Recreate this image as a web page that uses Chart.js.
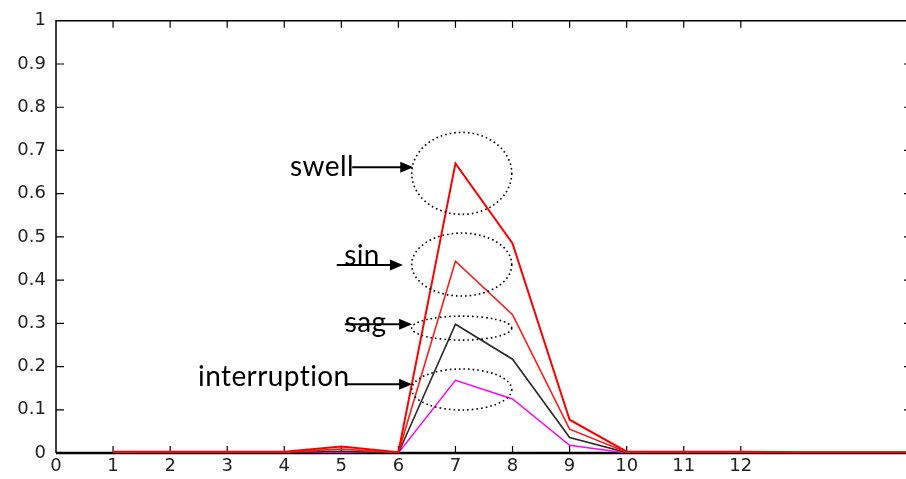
<!DOCTYPE html>
<html>
<head>
<meta charset="utf-8">
<script src="https://cdn.jsdelivr.net/npm/chart.js@4"></script>
<style>
  html, body { margin: 0; padding: 0; background: #fff; overflow: hidden; }
  #wrap { position: relative; width: 912px; height: 479px; }
</style>
</head>
<body>
<div id="wrap"><canvas id="c"></canvas></div>
<script>
// Sample index along the horizontal axis
const samples = [1, 2, 3, 4, 5, 6, 7, 8, 9, 10, 11, 12, 13, 14, 15];

// Per-disturbance response values
const swell        = [0.003, 0.003, 0.003, 0.003, 0.015, 0.002, 0.67,  0.485, 0.077, 0.003, 0.003, 0.003, 0.002, 0.002, 0.002];
const sinWave      = [0.002, 0.002, 0.002, 0.002, 0.009, 0.001, 0.444, 0.32,  0.055, 0.002, 0.002, 0.002, 0.001, 0.001, 0.001];
const sag          = [0.001, 0.001, 0.001, 0.001, 0.004, 0.0,   0.298, 0.217, 0.036, 0.001, 0.001, 0.001, 0.001, 0.001, 0.001];
const interruption = [0.0,   0.0,   0.0,   0.0,   0.001, 0.0,   0.168, 0.125, 0.018, 0.0,   0.0,   0.0,   0.0,   0.0,   0.0];

// Axis tick values
const xTicks = [0, 1, 2, 3, 4, 5, 6, 7, 8, 9, 10, 11, 12];
const yTicks = [0, 0.1, 0.2, 0.3, 0.4, 0.5, 0.6, 0.7, 0.8, 0.9, 1];

// Callout labels
const calloutNames = ['swell', 'sin', 'sag', 'interruption'];

// Callout geometry (data units for anchors, pixels for ellipse radii)
const callouts = [
  { text: [4.10, 0.640], arrow: [5.19, 6.26, 0.661], ellipse: [7.11, 0.647, 50, 41] },
  { text: [5.05, 0.435], arrow: [4.92, 6.08, 0.435], ellipse: [7.11, 0.436, 50, 31.5] },
  { text: [5.06, 0.280], arrow: [5.06, 6.24, 0.298], ellipse: [7.11, 0.289, 50, 12] },
  { text: [2.49, 0.155], arrow: [5.06, 6.24, 0.159], ellipse: [7.11, 0.147, 50, 20.5] }
];

const toPoints = vals => samples.map((x, i) => ({ x: x, y: vals[i] }));

// Box frame with inward tick marks, drawn under the curves
const framePlugin = {
  id: 'frame',
  beforeDatasetsDraw(chart) {
    const { ctx, chartArea: a, scales: { x, y } } = chart;
    ctx.save();
    ctx.strokeStyle = '#000';
    ctx.lineWidth = 1.5;
    ctx.beginPath();
    ctx.moveTo(a.left, a.bottom); ctx.lineTo(a.left, a.top);
    ctx.lineTo(a.right, a.top); ctx.lineTo(a.right, a.bottom);
    ctx.stroke();
    ctx.lineWidth = 1.2;
    ctx.beginPath();
    xTicks.forEach(v => {
      if (v === 0) return;
      const px = x.getPixelForValue(v);
      ctx.moveTo(px, a.bottom); ctx.lineTo(px, a.bottom - 7);
      ctx.moveTo(px, a.top); ctx.lineTo(px, a.top + 7);
    });
    yTicks.forEach(v => {
      if (v === 0 || v === 1) return;
      const py = y.getPixelForValue(v);
      ctx.moveTo(a.left, py); ctx.lineTo(a.left + 8, py);
      ctx.moveTo(a.right, py); ctx.lineTo(a.right - 8, py);
    });
    ctx.stroke();
    ctx.lineWidth = 2.5;
    ctx.beginPath();
    ctx.moveTo(a.left, a.bottom); ctx.lineTo(a.right, a.bottom);
    ctx.stroke();
    ctx.restore();
  }
};

// Dotted ellipses, arrows and names over the peaks
const calloutPlugin = {
  id: 'callouts',
  afterDatasetsDraw(chart) {
    const { ctx, scales: { x, y } } = chart;
    ctx.save();
    callouts.forEach((c, i) => {
      const [ex, ey, rx, ry] = c.ellipse;
      ctx.setLineDash([1.6, 3]);
      ctx.lineWidth = 1.6;
      ctx.strokeStyle = '#000';
      ctx.beginPath();
      ctx.ellipse(x.getPixelForValue(ex), y.getPixelForValue(ey), rx, ry, 0, 0, Math.PI * 2);
      ctx.stroke();
      ctx.setLineDash([]);

      const x0 = x.getPixelForValue(c.arrow[0]);
      const x1 = x.getPixelForValue(c.arrow[1]);
      const ay = y.getPixelForValue(c.arrow[2]);
      ctx.lineWidth = 2;
      ctx.beginPath();
      ctx.moveTo(x0, ay); ctx.lineTo(x1 - 10, ay);
      ctx.stroke();
      ctx.fillStyle = '#000';
      ctx.beginPath();
      ctx.moveTo(x1, ay); ctx.lineTo(x1 - 13, ay - 5.5); ctx.lineTo(x1 - 13, ay + 5.5);
      ctx.closePath();
      ctx.fill();

      // small letter spacing keeps "t" and "i" as separate glyphs
      ctx.font = '28px Lato, "Open Sans", sans-serif';
      if ('letterSpacing' in ctx) ctx.letterSpacing = '0.4px';
      ctx.textAlign = 'left';
      ctx.textBaseline = 'alphabetic';
      ctx.fillText(calloutNames[i], x.getPixelForValue(c.text[0]), y.getPixelForValue(c.text[1]));
    });
    ctx.restore();
  }
};

const tickFont = { family: '"DejaVu Sans", sans-serif', size: 18 };

new Chart(document.getElementById('c'), {
  type: 'line',
  data: {
    datasets: [
      { label: 'swell', data: toPoints(swell), borderColor: '#ff0000', borderWidth: 2 },
      { label: 'sin', data: toPoints(sinWave), borderColor: '#ff1a1a', borderWidth: 1.6 },
      { label: 'sag', data: toPoints(sag), borderColor: '#2b2b2b', borderWidth: 1.6 },
      { label: 'interruption', data: toPoints(interruption), borderColor: '#ff00ff', borderWidth: 1.4 }
    ]
  },
  options: {
    responsive: true,
    maintainAspectRatio: false,
    animation: false,
    layout: { padding: { top: 14, right: 0, left: 0, bottom: 0 } },
    elements: { point: { radius: 0 }, line: { tension: 0 } },
    plugins: { legend: { display: false }, tooltip: { enabled: false } },
    scales: {
      x: {
        type: 'linear', min: 0, max: 15,
        grid: { display: false, drawTicks: false },
        border: { display: false },
        afterBuildTicks: s => { s.ticks = xTicks.map(v => ({ value: v })); },
        afterFit: s => { s.height = 26; },
        ticks: { color: '#222', font: tickFont, padding: 3, maxRotation: 0, autoSkip: false }
      },
      y: {
        type: 'linear', min: 0, max: 1,
        grid: { display: false, drawTicks: false },
        border: { display: false },
        afterBuildTicks: s => { s.ticks = yTicks.map(v => ({ value: v })); },
        afterFit: s => { s.width = 56; },
        ticks: {
          color: '#222', font: tickFont, padding: 10,
          callback: v => (v === 0 || v === 1) ? String(v) : v.toFixed(1)
        }
      }
    }
  },
  plugins: [framePlugin, calloutPlugin]
});
</script>
</body>
</html>
